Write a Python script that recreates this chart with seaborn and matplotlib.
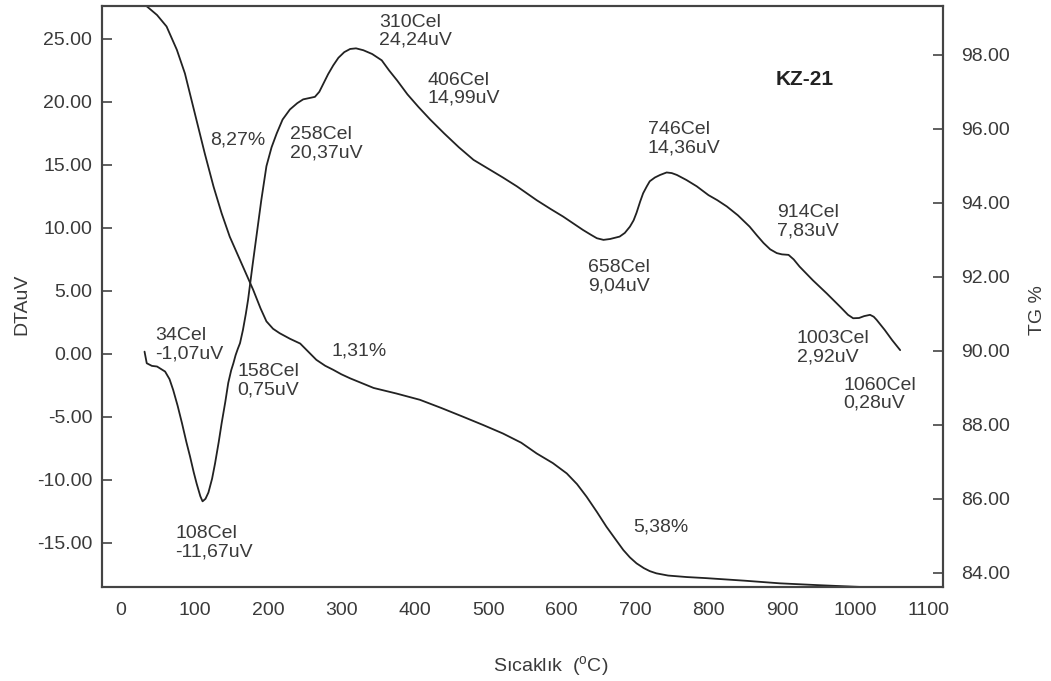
import numpy as np
import matplotlib
matplotlib.use("Agg")
import matplotlib.pyplot as plt
import seaborn as sns

################ DATA ################

# DTA curve (temperature in Cel, signal in uV)
dta_temp = [32, 35, 42, 49, 60, 66, 71, 77, 83, 89,
            94, 99, 103, 108, 111, 115, 119, 124, 128, 133,
            137, 142, 146, 150, 153, 156, 159, 162, 166, 170,
            173, 179, 185, 191, 198, 205, 212, 220, 230, 240,
            248, 256, 264, 270, 276, 282, 289, 296, 304, 312,
            320, 330, 342, 355, 365, 376, 390, 405, 421, 440,
            460, 480, 500, 520, 539, 566, 585, 602, 616, 629,
            640, 648, 657, 666, 679, 686, 693, 698, 702, 707,
            711, 716, 720, 727, 734, 743, 750, 757, 770, 784,
            800, 812, 825, 840, 856, 866, 875, 884, 893, 900,
            909, 916, 924, 942, 961, 980, 990, 997, 1005, 1012,
            1020, 1025, 1029, 1040, 1050, 1061]
dta_uv = [0.18, -0.74, -0.95, -1.0, -1.4, -2.0, -2.86, -4.1, -5.5, -7.0,
          -8.15, -9.4, -10.3, -11.3, -11.7, -11.5, -11.0, -9.9, -8.7, -7.0,
          -5.5, -3.8, -2.3, -1.3, -0.74, -0.1, 0.4, 0.85, 1.9, 3.2,
          4.3, 7.0, 9.6, 12.2, 14.9, 16.4, 17.5, 18.6, 19.4, 19.9,
          20.2, 20.3, 20.4, 20.8, 21.5, 22.2, 22.9, 23.5, 23.95, 24.2,
          24.25, 24.1, 23.8, 23.3, 22.5, 21.7, 20.6, 19.6, 18.6, 17.5,
          16.4, 15.4, 14.7, 14.0, 13.3, 12.2, 11.5, 10.9, 10.35, 9.84,
          9.45, 9.18, 9.05, 9.12, 9.31, 9.6, 10.1, 10.6, 11.2, 12.1,
          12.75, 13.3, 13.7, 14.0, 14.2, 14.4, 14.35, 14.2, 13.8, 13.3,
          12.6, 12.2, 11.7, 11.0, 10.1, 9.4, 8.8, 8.3, 8.0, 7.9,
          7.86, 7.5, 6.93, 5.85, 4.8, 3.7, 3.1, 2.83, 2.85, 3.0,
          3.1, 2.95, 2.7, 1.9, 1.1, 0.3]

# TG curve (temperature in Cel, mass in %)
tg_temp = [30, 49, 62, 76, 87, 96, 105, 114, 126, 137,
           148, 162, 180, 190, 198, 207, 216, 230, 244, 255,
           266, 278, 289, 300, 312, 344, 375, 407, 436, 466,
           493, 520, 545, 566, 588, 607, 621, 634, 648, 661,
           673, 684, 693, 702, 712, 720, 729, 745, 770, 797,
           850, 897, 950, 997, 1060]
tg_pct = [99.4, 99.08, 98.77, 98.14, 97.5, 96.78, 96.06, 95.34, 94.44, 93.72,
          93.09, 92.46, 91.65, 91.15, 90.8, 90.6, 90.48, 90.33, 90.2, 89.98,
          89.76, 89.6, 89.49, 89.37, 89.26, 89.0, 88.85, 88.68, 88.46, 88.22,
          88.0, 87.77, 87.52, 87.23, 86.97, 86.69, 86.4, 86.06, 85.65, 85.25,
          84.92, 84.62, 84.42, 84.26, 84.13, 84.05, 83.99, 83.93, 83.89, 83.86,
          83.79, 83.72, 83.67, 83.63, 83.58]

# peak labels on the DTA axis
peak_labels = ["34Cel\n-1,07uV", "108Cel\n-11,67uV", "158Cel\n0,75uV",
               "258Cel\n20,37uV", "310Cel\n24,24uV", "406Cel\n14,99uV",
               "658Cel\n9,04uV", "746Cel\n14,36uV", "914Cel\n7,83uV",
               "1003Cel\n2,92uV", "1060Cel\n0,28uV"]
peak_label_x = [47, 74, 158, 230, 351, 417, 636, 717, 893, 920, 984]
peak_label_y = [0.7, -15.0, -2.1, 16.7, 25.6, 21.0, 6.1, 17.1, 10.5, 0.5, -3.2]

# mass loss labels
loss_labels = ["8,27%", "1,31%", "5,38%"]
loss_label_x = [121, 286, 697]
loss_label_y = [17.0, 0.2, -13.7]

x_ticks = list(range(0, 1101, 100))
dta_ticks = [-15, -10, -5, 0, 5, 10, 15, 20, 25]
tg_ticks = [84, 86, 88, 90, 92, 94, 96, 98]

################ STYLE ################
sns.set_style("white")
plt.rcParams['font.family'] = ['Liberation Sans', 'DejaVu Sans']
plt.rcParams['mathtext.fontset'] = 'custom'
plt.rcParams['mathtext.rm'] = 'Liberation Sans'

text_c = "#3a3a3a"
line_c = "#222222"
spine_c = "#444444"
fs = 14

fig = plt.figure(figsize=(10.51, 6.81), dpi=100)
ax = fig.add_axes([0.097, 0.138, 0.8, 0.853])

sns.lineplot(x=dta_temp, y=dta_uv, ax=ax, color=line_c, lw=1.3,
             estimator=None, sort=False)
ax.set_xlim(-26, 1119)
ax.set_ylim(-18.5, 27.6)
ax.set_xticks(x_ticks)
ax.set_yticks(dta_ticks)
ax.set_yticklabels([f"{v:.2f}" for v in dta_ticks])
ax.set_xlabel("")
ax.set_ylabel("")
ax.tick_params(axis='x', direction='in', length=7, width=1.2, pad=11,
               labelsize=fs, colors=spine_c, labelcolor=text_c)
ax.tick_params(axis='y', direction='in', length=7, width=1.2, pad=7,
               labelsize=fs, colors=spine_c, labelcolor=text_c)

ax2 = ax.twinx()
sns.lineplot(x=tg_temp, y=tg_pct, ax=ax2, color=line_c, lw=1.3,
             estimator=None, sort=False)
ax2.set_ylim(83.62, 99.32)
ax2.set_yticks(tg_ticks)
ax2.set_yticklabels([f"{v:.2f}" for v in tg_ticks])
ax2.set_ylabel("")
ax2.tick_params(axis='y', direction='in', length=7, width=1.2, pad=13,
                labelsize=fs, colors=spine_c, labelcolor=text_c)

for a in (ax, ax2):
    for s in a.spines.values():
        s.set_color(spine_c)
        s.set_linewidth(1.5)

# annotations
for lab, x, y in zip(peak_labels, peak_label_x, peak_label_y):
    ax.text(x, y, lab, ha='left', va='center', fontsize=fs,
            color=text_c, linespacing=1.1)
for lab, x, y in zip(loss_labels, loss_label_x, loss_label_y):
    ax.text(x, y, lab, ha='left', va='center', fontsize=fs, color=text_c)

ax.text(931, 21.8, "KZ-21", ha='center', va='center', fontsize=15,
        fontweight='bold', color="#222222")

# axis titles
fig.text(22 / 1051, 1 - 304 / 681, "DTAuV", rotation=90, ha='center',
         va='center', fontsize=fs, color=text_c)
fig.text(1038 / 1051, 1 - 310 / 681, "TG %", rotation=90, ha='center',
         va='center', fontsize=fs, color=text_c)
fig.text(551 / 1051, 1 - 667 / 681, "Sıcaklık  ($^{\\rm o}$C)", ha='center',
         va='center', fontsize=fs, color=text_c)

fig.savefig("out.png", dpi=100)
